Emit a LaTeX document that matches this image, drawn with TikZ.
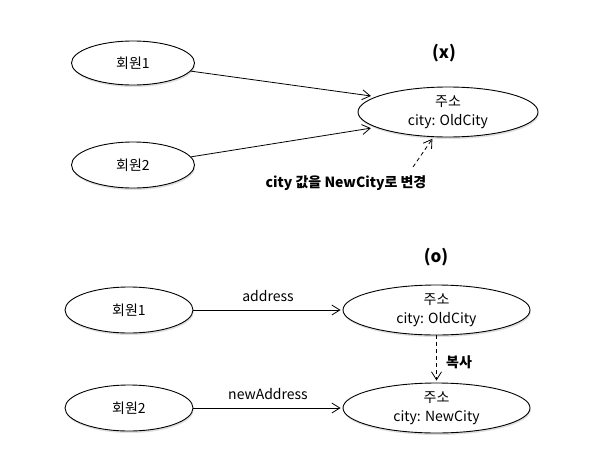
\documentclass[tikz,border=0pt]{standalone}
\usepackage{fontspec}
\setmainfont{Noto Sans CJK KR}
\usetikzlibrary{shapes.geometric,arrows.meta,shadows}
\begin{document}
\begin{tikzpicture}[x=1pt,y=-1pt,
  ell/.style={ellipse,draw=black,line width=0.9pt,fill=white,inner sep=0pt,
    font=\fontsize{14}{19}\selectfont,align=center,
    drop shadow={shadow xshift=0.8pt,shadow yshift=-2pt,opacity=0.25}},
  conn/.style={line width=0.8pt,-{Straight Barb[length=8pt,width=10pt,line width=0.8pt]}},
  dconn/.style={conn,dash pattern=on 4pt off 3pt},
  hdr/.style={font=\fontsize{17}{18}\selectfont\bfseries},
  blbl/.style={font=\fontsize{14}{15}\selectfont\bfseries},
  lbl/.style={font=\fontsize{14}{15}\selectfont}]
\useasboundingbox (0,0) rectangle (591,461);
% top diagram
\node[ell,minimum width=123pt,minimum height=44pt] (t1) at (133,63) {회원1};
\node[ell,minimum width=123pt,minimum height=46pt] (t2) at (133,165) {회원2};
\node[ell,minimum width=180pt,minimum height=50pt] (ta) at (448,112) {주소\\city: OldCity};
\node[hdr] (tx) at (444,53) {(x)};
\node[blbl] (chg) at (346,183) {city 값을 NewCity로 변경};
\coordinate (ds) at (413,167);
\draw[conn,shorten >=5pt] (t1.-8) -- (ta.168);
\draw[conn,shorten >=5pt] (t2.8) -- (ta.192);
\draw[dconn,shorten >=2pt] (ds) -- (ta.240);
% bottom diagram
\node[ell,minimum width=128pt,minimum height=46pt] (b1) at (129,310) {회원1};
\node[ell,minimum width=128pt,minimum height=46pt] (b2) at (129,408) {회원2};
\node[ell,minimum width=187pt,minimum height=50pt] (ba) at (436.5,310) {주소\\city: OldCity};
\node[ell,minimum width=187pt,minimum height=50pt] (bb) at (436.5,408) {주소\\city: NewCity};
\node[hdr] (bo) at (436,257) {(o)};
\draw[conn,shorten >=2pt] (b1) -- node[lbl,above=5pt] (la) {address} (ba);
\draw[conn,shorten >=2pt] (b2) -- node[lbl,above=5pt] (lb) {newAddress} (bb);
\draw[dconn,shorten >=2pt] (ba) -- (bb);
\node[blbl] (cp) at (459,362) {복사};
\end{tikzpicture}
\end{document}
